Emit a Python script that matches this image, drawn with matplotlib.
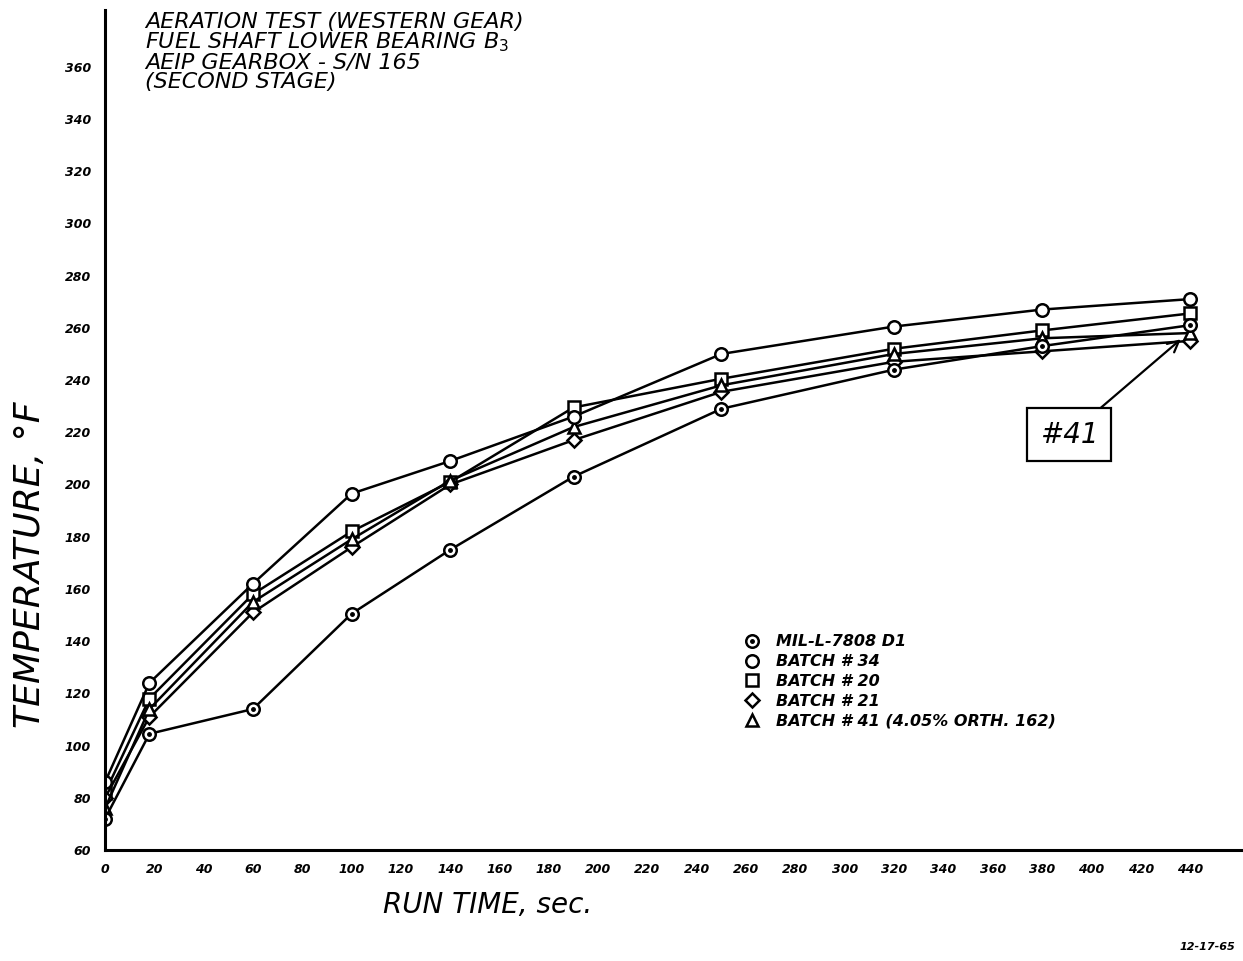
import matplotlib
matplotlib.use('Agg')
import matplotlib.pyplot as plt
from matplotlib.lines import Line2D
from matplotlib.legend_handler import HandlerTuple

# run time, sec (same for every series)
run_time = [0, 18, 60, 100, 140, 190, 250, 320, 380, 440]

# temperatures, deg F
mil_7808 = [72, 104.5, 114, 150.5, 175, 203, 229, 244, 253, 261]
batch_34 = [86, 124, 162, 196.5, 209, 226, 250, 260.5, 267, 271]
batch_20 = [82, 118, 158, 182, 201, 229.5, 240.5, 252, 259, 265.5]
batch_21 = [80, 111, 151, 176, 200, 217, 235.5, 247, 251, 255]
batch_41 = [76, 114, 155, 179, 201.5, 222, 238, 250, 256, 258]

labels = ["MIL-L-7808 D1", "BATCH # 34", "BATCH # 20", "BATCH # 21",
          "BATCH # 41 (4.05% ORTH. 162)"]

xticks = list(range(0, 441, 20))
yticks = list(range(60, 361, 20))

FONT = {'fontweight': 'bold', 'fontstyle': 'italic'}

fig = plt.figure(figsize=(12.43, 9.61), dpi=100)
ax = fig.add_axes([0.0845, 0.1155, 0.9155, 0.874])
ax.set_xlim(0, 461.5)
ax.set_ylim(60, 381.7)

for s in ['top', 'right']:
    ax.spines[s].set_visible(False)
for s in ['left', 'bottom']:
    ax.spines[s].set_linewidth(2.2)

style = dict(color='black', lw=1.8, markersize=9, mew=1.8, mfc='white', mec='black')
ax.plot(run_time, batch_20, marker='s', **style)
ax.plot(run_time, batch_21, marker='D', **{**style, 'markersize': 7.5})
ax.plot(run_time, batch_41, marker='^', **style)
ax.plot(run_time, batch_34, marker='o', **style)
ax.plot(run_time, mil_7808, marker='o', **style)
ax.plot(run_time, mil_7808, ls='none', marker='.', color='black', markersize=5)

ax.set_xticks(xticks)
ax.set_xticklabels([str(v) for v in xticks], **FONT)
ax.set_yticks(yticks)
ax.set_yticklabels([str(v) for v in yticks], **FONT)
ax.tick_params(axis='both', length=0, labelsize=9)
ax.tick_params(axis='x', pad=9)
ax.tick_params(axis='y', pad=10)

# title block, top left
title = ["AERATION TEST (WESTERN GEAR)",
         "FUEL SHAFT LOWER BEARING B$_3$",
         "AEIP GEARBOX - S/N 165",
         "(SECOND STAGE)"]
for i, line in enumerate(title):
    fig.text(145 / 1243, 1 - (22 + i * 20) / 961, line, fontsize=16,
             fontstyle='italic', va='center', ha='left')

fig.text(30 / 1243, 1 - 565 / 961, "TEMPERATURE, °F", rotation=90, fontsize=26,
         fontstyle='italic', va='center', ha='center')
fig.text(488 / 1243, 1 - 905 / 961, "RUN TIME, sec.", fontsize=20,
         fontstyle='italic', va='center', ha='center')
fig.text(1235 / 1243, 1 - 947 / 961, "12-17-65", fontsize=8,
         ha='right', va='center', **FONT)

# legend (markers only)
mk = dict(color='black', ls='none', markersize=9, mew=1.8, mfc='white')
h_mil = (Line2D([], [], marker='o', **mk),
         Line2D([], [], marker='.', color='black', ls='none', markersize=5))
handles = [h_mil,
           Line2D([], [], marker='o', **mk),
           Line2D([], [], marker='s', **mk),
           Line2D([], [], marker='D', **{**mk, 'markersize': 7.5}),
           Line2D([], [], marker='^', **mk)]
ax.legend(handles, labels, handler_map={tuple: HandlerTuple(ndivide=1)},
          loc='upper left', bbox_to_anchor=((728 - 105) / 1138, 1 - (620 - 10) / 840),
          frameon=False, prop={'size': 11.5, 'weight': 'bold', 'style': 'italic'},
          handlelength=1.2, handletextpad=0.9, labelspacing=0.3)

# "#41" callout
ax.annotate("#41", xy=(438, 257), xytext=(391, 219),
            fontsize=20, fontstyle='italic', ha='center', va='center',
            bbox=dict(boxstyle='square,pad=0.45', fc='white', ec='black', lw=1.6),
            arrowprops=dict(arrowstyle='->', color='black', lw=1.6,
                            shrinkA=0, shrinkB=4))

fig.savefig('out.png', dpi=100)
